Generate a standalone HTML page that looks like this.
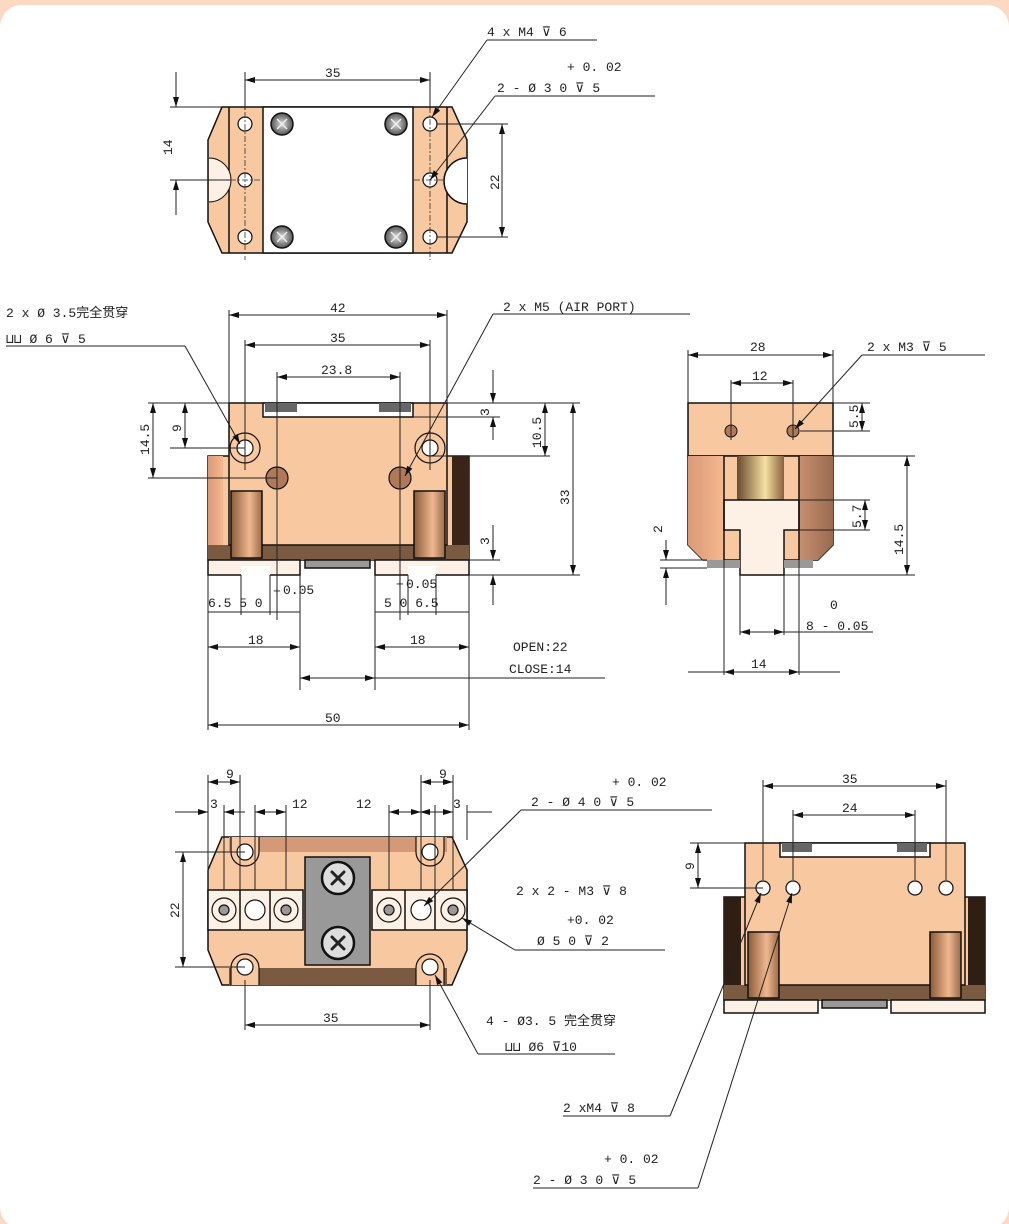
<!DOCTYPE html>
<html><head><meta charset="utf-8"><style>
html,body{margin:0;padding:0;background:#fbd9c3;}
svg{display:block;}
text{font-family:"Liberation Mono","Noto Sans CJK SC",monospace;font-size:13px;fill:#222;}
.d{stroke:#222;stroke-width:1;fill:none;}
.o{stroke:#111;stroke-width:1.5;}
.c{stroke:#333;stroke-width:0.8;stroke-dasharray:6 2 2 2;fill:none;}
</style></head><body>
<svg width="1009" height="1224" viewBox="0 0 1009 1224" xmlns="http://www.w3.org/2000/svg">
<defs>
<marker id="a" markerWidth="10" markerHeight="6" refX="10" refY="3" orient="auto-start-reverse" markerUnits="userSpaceOnUse"><path d="M0,0 L10,3 L0,6z" fill="#111"/></marker>
<linearGradient id="post" x1="0" x2="1"><stop offset="0" stop-color="#8a5a38"/><stop offset=".6" stop-color="#f0b890"/><stop offset="1" stop-color="#9a6a48"/></linearGradient>
<linearGradient id="post2" x1="0" x2="1"><stop offset="0" stop-color="#6a4a30"/><stop offset=".6" stop-color="#f6e0a0"/><stop offset="1" stop-color="#8a6040"/></linearGradient>
<linearGradient id="sideR" x1="0" x2="1"><stop offset="0" stop-color="#c89070"/><stop offset="1" stop-color="#9a6a50"/></linearGradient>
<linearGradient id="sideL" x1="0" x2="1"><stop offset="0" stop-color="#d89a78"/><stop offset="1" stop-color="#f6b890"/></linearGradient>
<radialGradient id="scr"><stop offset="0" stop-color="#ddd"/><stop offset="1" stop-color="#555"/></radialGradient>
</defs>
<rect x="0" y="5" width="1009" height="1224" rx="22" fill="#fff"/>

<!-- ===== VIEW 1 ===== -->
<polygon points="222,107 452,107 467,140 467,222 452,253 222,253 208,222 208,140" fill="#f8c8a0" class="o"/>
<rect x="263" y="107" width="150" height="146" fill="#fff" class="o"/>
<line x1="229" y1="107" x2="229" y2="253" class="o"/><line x1="447" y1="107" x2="447" y2="253" class="o"/>
<path d="M209,158 A22,22 0 0 1 209,202 Z" fill="#fdf0e4"/>
<path d="M209,158 A22,22 0 0 1 209,202" fill="none" stroke="#111" stroke-width="1"/>
<path d="M467,158 A22,22 0 0 0 467,204 Z" fill="#fff"/>
<path d="M467,158 A22,22 0 0 0 467,204" class="o" fill="none"/>
<g fill="#fff" stroke="#111" stroke-width="1.2">
<circle cx="245" cy="124" r="7"/><circle cx="245" cy="180" r="7"/><circle cx="245" cy="237" r="7"/>
<circle cx="430" cy="124" r="7"/><circle cx="430" cy="180" r="7"/><circle cx="430" cy="237" r="7"/>
</g>
<g fill="url(#scr)" stroke="#111" stroke-width="1.5">
<circle cx="282" cy="124" r="11"/><circle cx="396" cy="124" r="11"/><circle cx="282" cy="237" r="11"/><circle cx="396" cy="237" r="11"/>
</g>
<g stroke="#eee" stroke-width="1.5">
<path d="M277,119 L287,129 M287,119 L277,129"/><path d="M391,119 L401,129 M401,119 L391,129"/>
<path d="M277,232 L287,242 M287,232 L277,242"/><path d="M391,232 L401,242 M401,232 L391,242"/>
</g>
<g class="c"><line x1="245" y1="100" x2="245" y2="260"/><line x1="430" y1="95" x2="430" y2="260"/><line x1="230" y1="180" x2="262" y2="180"/><line x1="414" y1="180" x2="446" y2="180"/></g>
<line x1="245" y1="80" x2="430" y2="80" class="d" marker-start="url(#a)" marker-end="url(#a)"/>
<line x1="245" y1="72" x2="245" y2="110" class="d"/><line x1="430" y1="72" x2="430" y2="110" class="d"/>
<text x="325" y="77">35</text>
<line x1="170" y1="107" x2="222" y2="107" class="d"/><line x1="170" y1="180" x2="230" y2="180" class="d"/>
<line x1="176" y1="72" x2="176" y2="107" class="d" marker-end="url(#a)"/><line x1="176" y1="215" x2="176" y2="180" class="d" marker-end="url(#a)"/>
<text transform="translate(172,155) rotate(-90)">14</text>
<line x1="437" y1="124" x2="508" y2="124" class="d"/><line x1="437" y1="237" x2="508" y2="237" class="d"/>
<line x1="502" y1="124" x2="502" y2="237" class="d" marker-start="url(#a)" marker-end="url(#a)"/>
<text transform="translate(499,190) rotate(-90)">22</text>
<text x="487" y="36">4 x M4  ⊽ 6</text><line x1="487" y1="40" x2="597" y2="40" class="d"/>
<line x1="487" y1="40" x2="432" y2="117" class="d" marker-end="url(#a)"/>
<text x="567" y="71">+ 0. 02</text><text x="497" y="92">2 - Ø 3  0   ⊽ 5</text>
<line x1="495" y1="96" x2="655" y2="96" class="d"/><line x1="495" y1="96" x2="430" y2="180" class="d" marker-end="url(#a)"/>

<!-- ===== VIEW 2 ===== -->
<rect x="208" y="456" width="261" height="104" fill="#f8c8a0" class="o"/>
<rect x="208" y="456" width="15" height="89" fill="url(#sideL)"/>
<rect x="452" y="456" width="17" height="102" fill="#3a2418"/>
<polygon points="208,545 469,545 469,560 208,560" fill="#7a5a40"/>
<rect x="229" y="403" width="218" height="142" fill="#f8c8a0" class="o"/>
<rect x="263" y="403" width="150" height="14" fill="#fff" class="o"/>
<rect x="265" y="403" width="32" height="9" fill="#666"/><rect x="379" y="403" width="32" height="9" fill="#666"/>
<rect x="231" y="491" width="31" height="67" fill="url(#post)" class="o"/>
<rect x="414" y="491" width="31" height="67" fill="url(#post)" class="o"/>
<rect x="208" y="560" width="92" height="15" fill="#fdf0e4" class="o"/><rect x="241" y="566" width="29" height="10" fill="#fff"/>
<rect x="375" y="560" width="94" height="15" fill="#fdf0e4" class="o"/><rect x="408" y="566" width="28" height="10" fill="#fff"/>
<rect x="305" y="560" width="65" height="8" fill="#999" class="o"/>
<g stroke="#111" stroke-width="1.2"><circle cx="245" cy="448" r="15" fill="none"/><circle cx="245" cy="448" r="8" fill="#fff"/>
<circle cx="430" cy="448" r="15" fill="none"/><circle cx="430" cy="448" r="8" fill="#fff"/>
<circle cx="277" cy="478" r="11" fill="#b07a5a"/><circle cx="400" cy="478" r="11" fill="#b07a5a"/></g>
<g class="d">
<line x1="229" y1="310" x2="229" y2="403"/><line x1="447" y1="310" x2="447" y2="403"/>
<line x1="245" y1="340" x2="245" y2="470"/><line x1="430" y1="340" x2="430" y2="470"/>
<line x1="277" y1="372" x2="277" y2="620"/><line x1="400" y1="372" x2="400" y2="620"/>
<line x1="148" y1="403" x2="229" y2="403"/><line x1="170" y1="448" x2="245" y2="448"/><line x1="148" y1="478" x2="277" y2="478"/>
<line x1="447" y1="403" x2="580" y2="403"/><line x1="413" y1="417" x2="500" y2="417"/><line x1="430" y1="456" x2="550" y2="456"/>
<line x1="469" y1="575" x2="580" y2="575"/><line x1="469" y1="560" x2="500" y2="560"/>
<line x1="208" y1="575" x2="208" y2="730"/><line x1="469" y1="575" x2="469" y2="730"/>
<line x1="300" y1="575" x2="300" y2="690"/><line x1="375" y1="575" x2="375" y2="690"/>
<line x1="241" y1="575" x2="241" y2="615"/><line x1="270" y1="575" x2="270" y2="615"/>
<line x1="408" y1="575" x2="408" y2="615"/><line x1="436" y1="575" x2="436" y2="615"/>
</g>
<line x1="229" y1="315" x2="447" y2="315" class="d" marker-start="url(#a)" marker-end="url(#a)"/><text x="330" y="312">42</text>
<line x1="245" y1="345" x2="430" y2="345" class="d" marker-start="url(#a)" marker-end="url(#a)"/><text x="330" y="342">35</text>
<line x1="277" y1="377" x2="400" y2="377" class="d" marker-start="url(#a)" marker-end="url(#a)"/><text x="321" y="374">23.8</text>
<line x1="153" y1="403" x2="153" y2="478" class="d" marker-start="url(#a)" marker-end="url(#a)"/><text transform="translate(149,455) rotate(-90)">14.5</text>
<line x1="185" y1="403" x2="185" y2="448" class="d" marker-start="url(#a)" marker-end="url(#a)"/><text transform="translate(181,432) rotate(-90)">9</text>
<line x1="493" y1="370" x2="493" y2="403" class="d" marker-end="url(#a)"/><line x1="493" y1="440" x2="493" y2="417" class="d" marker-end="url(#a)"/>
<text transform="translate(489,416) rotate(-90)">3</text>
<line x1="545" y1="403" x2="545" y2="456" class="d" marker-start="url(#a)" marker-end="url(#a)"/><text transform="translate(541,448) rotate(-90)">10.5</text>
<line x1="573" y1="403" x2="573" y2="575" class="d" marker-start="url(#a)" marker-end="url(#a)"/><text transform="translate(569,505) rotate(-90)">33</text>
<line x1="493" y1="525" x2="493" y2="560" class="d" marker-end="url(#a)"/><line x1="493" y1="605" x2="493" y2="575" class="d" marker-end="url(#a)"/>
<text transform="translate(489,545) rotate(-90)">3</text>
<text x="208" y="607">6.5  5  0</text><text x="273" y="595">+</text><text x="283" y="594">0.05</text>
<text x="384" y="607">5  0  6.5</text><text x="396" y="588">+</text><text x="406" y="588">0.05</text>
<line x1="208" y1="612" x2="300" y2="612" class="d"/><line x1="375" y1="612" x2="469" y2="612" class="d"/>
<line x1="208" y1="647" x2="300" y2="647" class="d" marker-start="url(#a)" marker-end="url(#a)"/><text x="248" y="644">18</text>
<line x1="375" y1="647" x2="469" y2="647" class="d" marker-start="url(#a)" marker-end="url(#a)"/><text x="410" y="644">18</text>
<text x="513" y="651">OPEN:22</text><text x="509" y="673">CLOSE:14</text>
<line x1="300" y1="678" x2="605" y2="678" class="d"/>
<line x1="300" y1="678" x2="375" y2="678" class="d" marker-start="url(#a)" marker-end="url(#a)"/>
<line x1="208" y1="725" x2="469" y2="725" class="d" marker-start="url(#a)" marker-end="url(#a)"/><text x="325" y="722">50</text>
<text x="6" y="317">2 x  Ø  3.5完全贯穿</text>
<text x="6" y="343">⊔⊔  Ø 6  ⊽ 5</text>
<line x1="6" y1="346" x2="185" y2="346" class="d"/><line x1="185" y1="346" x2="240" y2="444" class="d" marker-end="url(#a)"/>
<text x="503" y="311">2 x M5  (AIR PORT)</text>
<line x1="493" y1="314" x2="690" y2="314" class="d"/><line x1="493" y1="314" x2="405" y2="476" class="d" marker-end="url(#a)"/>

<!-- ===== SIDE VIEW ===== -->
<rect x="688" y="403" width="145" height="53" fill="#f8c8a0" class="o"/>
<polygon points="688,456 833,456 833,545 818,560 703,560 688,545" fill="#f8c8a0" class="o"/>
<polygon points="688,456 724,456 724,560 703,560 688,545" fill="url(#sideL)"/>
<polygon points="799,456 833,456 833,545 818,560 799,560" fill="url(#sideR)"/>
<rect x="737" y="456" width="47" height="44" fill="url(#post2)"/>
<polygon points="724,500 799,500 799,530 784,530 784,575 740,575 740,530 724,530" fill="#fdf0e4" class="o"/>
<rect x="707" y="560" width="33" height="8" fill="#999"/><rect x="784" y="560" width="29" height="8" fill="#999"/>
<line x1="724" y1="456" x2="724" y2="560" class="o"/><line x1="799" y1="456" x2="799" y2="560" class="o"/>
<circle cx="731" cy="431" r="6" fill="#b07a5a" stroke="#111"/><circle cx="793" cy="431" r="6" fill="#b07a5a" stroke="#111"/>
<g class="d">
<line x1="688" y1="350" x2="688" y2="403"/><line x1="833" y1="350" x2="833" y2="403"/>
<line x1="731" y1="380" x2="731" y2="440"/><line x1="793" y1="380" x2="793" y2="440"/>
<line x1="833" y1="403" x2="870" y2="403"/><line x1="800" y1="431" x2="870" y2="431"/>
<line x1="799" y1="500" x2="870" y2="500"/><line x1="799" y1="530" x2="870" y2="530"/>
<line x1="833" y1="456" x2="915" y2="456"/><line x1="784" y1="575" x2="915" y2="575"/>
<line x1="660" y1="560" x2="707" y2="560"/><line x1="660" y1="568" x2="707" y2="568"/>
<line x1="724" y1="560" x2="724" y2="675"/><line x1="799" y1="560" x2="799" y2="675"/>
<line x1="740" y1="575" x2="740" y2="635"/><line x1="784" y1="575" x2="784" y2="635"/>
</g>
<line x1="688" y1="355" x2="833" y2="355" class="d" marker-start="url(#a)" marker-end="url(#a)"/><text x="750" y="351">28</text>
<line x1="731" y1="383" x2="793" y2="383" class="d" marker-start="url(#a)" marker-end="url(#a)"/><text x="752" y="380">12</text>
<line x1="862" y1="403" x2="862" y2="431" class="d" marker-start="url(#a)" marker-end="url(#a)"/><text transform="translate(858,428) rotate(-90)">5.5</text>
<line x1="865" y1="500" x2="865" y2="530" class="d" marker-start="url(#a)" marker-end="url(#a)"/><text transform="translate(861,528) rotate(-90)">5.7</text>
<line x1="907" y1="456" x2="907" y2="575" class="d" marker-start="url(#a)" marker-end="url(#a)"/><text transform="translate(903,555) rotate(-90)">14.5</text>
<line x1="666" y1="540" x2="666" y2="560" class="d" marker-end="url(#a)"/><line x1="666" y1="605" x2="666" y2="568" class="d" marker-end="url(#a)"/>
<text transform="translate(662,533) rotate(-90)">2</text>
<text x="830" y="609">0</text><text x="806" y="630">8 - 0.05</text>
<line x1="740" y1="632" x2="873" y2="632" class="d"/><line x1="740" y1="632" x2="784" y2="632" class="d" marker-start="url(#a)" marker-end="url(#a)"/>
<line x1="688" y1="672" x2="840" y2="672" class="d"/><line x1="724" y1="672" x2="799" y2="672" class="d" marker-start="url(#a)" marker-end="url(#a)"/>
<text x="751" y="668">14</text>
<text x="867" y="351">2 x M3    ⊽ 5</text><line x1="862" y1="355" x2="985" y2="355" class="d"/>
<line x1="862" y1="355" x2="795" y2="429" class="d" marker-end="url(#a)"/>

<!-- ===== VIEW 3 ===== -->
<polygon points="222,837 452,837 467,870 467,950 452,985 222,985 208,950 208,870" fill="#f8c8a0" class="o"/>
<rect x="229" y="837" width="218" height="15" fill="#d49a78"/>
<rect x="229" y="968" width="218" height="17" fill="#7a5a40"/>
<g stroke="#111" stroke-width="1.2">
<path d="M231,837 L231,852 A14,14 0 0 0 259,852 L259,837" fill="#f8c8a0"/><path d="M416,837 L416,852 A14,14 0 0 0 444,852 L444,837" fill="#f8c8a0"/>
<path d="M231,985 L231,968 A14,14 0 0 1 259,968 L259,985" fill="#f8c8a0"/><path d="M416,985 L416,968 A14,14 0 0 1 444,968 L444,985" fill="#f8c8a0"/>
</g>
<rect x="208" y="890" width="95" height="40" fill="#fdf0e4" class="o"/>
<rect x="372" y="890" width="95" height="40" fill="#fdf0e4" class="o"/>
<line x1="240" y1="890" x2="240" y2="930" class="o"/><line x1="270" y1="890" x2="270" y2="930" class="o"/>
<line x1="405" y1="890" x2="405" y2="930" class="o"/><line x1="435" y1="890" x2="435" y2="930" class="o"/>
<rect x="305" y="857" width="65" height="108" fill="#999" class="o"/>
<g stroke="#111" stroke-width="1.2">
<circle cx="245" cy="852" r="8" fill="#fff"/><circle cx="430" cy="852" r="8" fill="#fff"/>
<circle cx="245" cy="967" r="8" fill="#fff"/><circle cx="430" cy="967" r="8" fill="#fff"/>
<circle cx="224" cy="910" r="12" fill="#fdf0e4"/><circle cx="224" cy="910" r="5" fill="#999"/>
<circle cx="255" cy="910" r="10" fill="#fff"/>
<circle cx="286" cy="910" r="12" fill="#fdf0e4"/><circle cx="286" cy="910" r="5" fill="#999"/>
<circle cx="389" cy="910" r="12" fill="#fdf0e4"/><circle cx="389" cy="910" r="5" fill="#999"/>
<circle cx="421" cy="910" r="10" fill="#fff"/>
<circle cx="453" cy="910" r="12" fill="#fdf0e4"/><circle cx="453" cy="910" r="5" fill="#999"/>
<circle cx="338" cy="878" r="16" fill="#ddd" stroke-width="2.5"/><circle cx="338" cy="943" r="16" fill="#ddd" stroke-width="2.5"/>
</g>
<g stroke="#222" stroke-width="3" stroke-linecap="round"><path d="M332,872 L344,884 M344,872 L332,884"/><path d="M332,937 L344,949 M344,937 L332,949"/></g>
<g class="d">
<line x1="208" y1="775" x2="208" y2="890"/><line x1="224" y1="805" x2="224" y2="890"/><line x1="240" y1="775" x2="240" y2="890"/>
<line x1="255" y1="805" x2="255" y2="890"/><line x1="286" y1="805" x2="286" y2="890"/>
<line x1="389" y1="805" x2="389" y2="890"/><line x1="421" y1="775" x2="421" y2="890"/>
<line x1="453" y1="775" x2="453" y2="890"/><line x1="435" y1="805" x2="435" y2="890"/><line x1="467" y1="805" x2="467" y2="840"/>
<line x1="175" y1="852" x2="245" y2="852"/><line x1="175" y1="967" x2="245" y2="967"/>
<line x1="245" y1="980" x2="245" y2="1030"/><line x1="430" y1="980" x2="430" y2="1030"/>
</g>
<line x1="208" y1="782" x2="240" y2="782" class="d" marker-start="url(#a)" marker-end="url(#a)"/><text x="226" y="778">9</text>
<line x1="421" y1="782" x2="453" y2="782" class="d" marker-start="url(#a)" marker-end="url(#a)"/><text x="439" y="778">9</text>
<line x1="175" y1="812" x2="208" y2="812" class="d" marker-end="url(#a)"/><line x1="245" y1="812" x2="224" y2="812" class="d" marker-end="url(#a)"/><text x="210" y="808">3</text>
<line x1="255" y1="812" x2="286" y2="812" class="d" marker-start="url(#a)" marker-end="url(#a)"/><text x="292" y="808">12</text>
<line x1="389" y1="812" x2="421" y2="812" class="d" marker-start="url(#a)" marker-end="url(#a)"/><text x="356" y="808">12</text>
<line x1="420" y1="812" x2="453" y2="812" class="d" marker-start="url(#a)" marker-end="url(#a)"/><line x1="467" y1="812" x2="492" y2="812" class="d"/><text x="453" y="808">3</text>
<line x1="183" y1="852" x2="183" y2="967" class="d" marker-start="url(#a)" marker-end="url(#a)"/><text transform="translate(179,918) rotate(-90)">22</text>
<line x1="245" y1="1025" x2="430" y2="1025" class="d" marker-start="url(#a)" marker-end="url(#a)"/><text x="323" y="1022">35</text>
<text x="612" y="786">+ 0. 02</text><text x="531" y="806">2 -  Ø 4   0      ⊽ 5</text>
<line x1="521" y1="810" x2="712" y2="810" class="d"/><line x1="521" y1="810" x2="424" y2="906" class="d" marker-end="url(#a)"/>
<text x="516" y="895">2 x 2 - M3     ⊽ 8</text>
<text x="567" y="924">+0. 02</text><text x="537" y="945">Ø 5   0      ⊽ 2</text>
<line x1="515" y1="950" x2="665" y2="950" class="d"/><line x1="515" y1="950" x2="462" y2="918" class="d" marker-end="url(#a)"/>
<text x="486" y="1025">4  -  Ø3. 5  完全贯穿</text>
<text x="505" y="1051">⊔⊔ Ø6    ⊽10</text>
<line x1="478" y1="1054" x2="615" y2="1054" class="d"/><line x1="478" y1="1054" x2="435" y2="975" class="d" marker-end="url(#a)"/>

<!-- ===== VIEW 4 ===== -->
<rect x="724" y="897" width="261" height="103" fill="#f8c8a0" class="o"/>
<rect x="724" y="897" width="17" height="103" fill="#2e1e14"/><rect x="968" y="897" width="17" height="103" fill="#2e1e14"/>
<rect x="724" y="985" width="261" height="15" fill="#7a5a40"/>
<rect x="745" y="843" width="220" height="142" fill="#f8c8a0" class="o"/>
<rect x="780" y="843" width="150" height="14" fill="#fff" class="o"/>
<rect x="782" y="843" width="30" height="9" fill="#666"/><rect x="897" y="843" width="30" height="9" fill="#666"/>
<rect x="748" y="932" width="31" height="66" fill="url(#post)" class="o"/><rect x="930" y="932" width="31" height="66" fill="url(#post)" class="o"/>
<rect x="724" y="1000" width="94" height="13" fill="#fdf0e4" class="o"/><rect x="891" y="1000" width="94" height="13" fill="#fdf0e4" class="o"/>
<rect x="822" y="1000" width="65" height="8" fill="#999" class="o"/>
<g fill="#fff" stroke="#111" stroke-width="1.2"><circle cx="763" cy="888" r="7"/><circle cx="793" cy="888" r="7"/><circle cx="915" cy="888" r="7"/><circle cx="946" cy="888" r="7"/></g>
<g class="d">
<line x1="763" y1="780" x2="763" y2="880"/><line x1="946" y1="780" x2="946" y2="880"/>
<line x1="793" y1="810" x2="793" y2="880"/><line x1="915" y1="810" x2="915" y2="880"/>
<line x1="690" y1="843" x2="745" y2="843"/><line x1="690" y1="888" x2="763" y2="888"/>
</g>
<line x1="763" y1="786" x2="946" y2="786" class="d" marker-start="url(#a)" marker-end="url(#a)"/><text x="842" y="783">35</text>
<line x1="793" y1="815" x2="915" y2="815" class="d" marker-start="url(#a)" marker-end="url(#a)"/><text x="842" y="812">24</text>
<line x1="698" y1="843" x2="698" y2="888" class="d" marker-start="url(#a)" marker-end="url(#a)"/><text transform="translate(694,870) rotate(-90)">9</text>
<text x="563" y="1112">2 xM4   ⊽ 8</text>
<line x1="563" y1="1116" x2="670" y2="1116" class="d"/><line x1="670" y1="1116" x2="761" y2="893" class="d" marker-end="url(#a)"/>
<text x="604" y="1163">+ 0. 02</text><text x="533" y="1184">2 - Ø  3   0      ⊽ 5</text>
<line x1="533" y1="1188" x2="698" y2="1188" class="d"/><line x1="698" y1="1188" x2="792" y2="893" class="d" marker-end="url(#a)"/>
</svg>
</body></html>
